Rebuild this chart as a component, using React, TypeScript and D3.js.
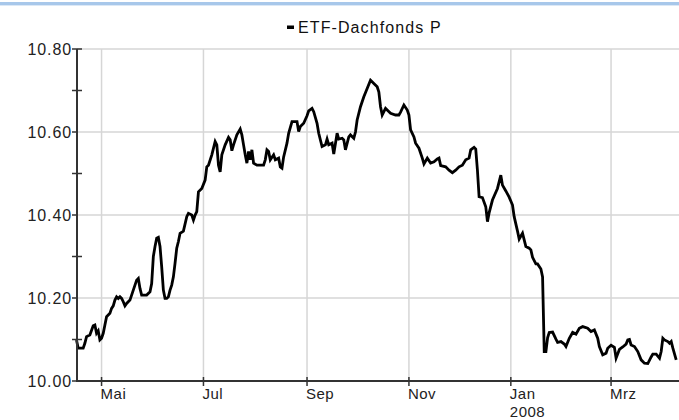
import React, { useEffect, useRef } from 'react';
import * as d3 from 'd3';

// ETF-Dachfonds P, daily NAV
const dates = [
  '2007-04-16', '2007-04-17', '2007-04-20', '2007-04-21', '2007-04-22', '2007-04-24', '2007-04-26', '2007-04-27',
  '2007-04-28', '2007-04-29', '2007-04-30', '2007-05-01', '2007-05-02', '2007-05-03', '2007-05-04', '2007-05-06',
  '2007-05-07', '2007-05-08', '2007-05-09', '2007-05-10', '2007-05-11', '2007-05-12', '2007-05-13', '2007-05-14',
  '2007-05-15', '2007-05-16', '2007-05-18', '2007-05-19', '2007-05-20', '2007-05-21', '2007-05-22', '2007-05-23',
  '2007-05-24', '2007-05-25', '2007-05-26', '2007-05-28', '2007-05-30', '2007-05-31', '2007-06-01', '2007-06-02',
  '2007-06-03', '2007-06-04', '2007-06-05', '2007-06-06', '2007-06-07', '2007-06-08', '2007-06-09', '2007-06-10',
  '2007-06-11', '2007-06-12', '2007-06-13', '2007-06-14', '2007-06-15', '2007-06-16', '2007-06-17', '2007-06-19',
  '2007-06-21', '2007-06-22', '2007-06-24', '2007-06-25', '2007-06-26', '2007-06-27', '2007-06-28', '2007-06-30',
  '2007-07-02', '2007-07-03', '2007-07-04', '2007-07-06', '2007-07-08', '2007-07-09', '2007-07-10', '2007-07-11',
  '2007-07-12', '2007-07-14', '2007-07-16', '2007-07-17', '2007-07-18', '2007-07-19', '2007-07-21', '2007-07-23',
  '2007-07-24', '2007-07-25', '2007-07-26', '2007-07-27', '2007-07-28', '2007-07-29', '2007-07-30', '2007-07-31',
  '2007-08-02', '2007-08-04', '2007-08-06', '2007-08-07', '2007-08-08', '2007-08-09', '2007-08-10', '2007-08-12',
  '2007-08-13', '2007-08-15', '2007-08-16', '2007-08-17', '2007-08-18', '2007-08-20', '2007-08-21', '2007-08-23',
  '2007-08-26', '2007-08-27', '2007-08-28', '2007-08-30', '2007-09-01', '2007-09-02', '2007-09-04', '2007-09-05',
  '2007-09-07', '2007-09-08', '2007-09-10', '2007-09-12', '2007-09-13', '2007-09-14', '2007-09-16', '2007-09-17',
  '2007-09-19', '2007-09-20', '2007-09-22', '2007-09-23', '2007-09-24', '2007-09-26', '2007-09-27', '2007-09-29',
  '2007-09-30', '2007-10-01', '2007-10-03', '2007-10-05', '2007-10-07', '2007-10-09', '2007-10-11', '2007-10-13',
  '2007-10-14', '2007-10-15', '2007-10-16', '2007-10-18', '2007-10-19', '2007-10-21', '2007-10-24', '2007-10-26',
  '2007-10-27', '2007-10-29', '2007-10-31', '2007-11-01', '2007-11-02', '2007-11-04', '2007-11-05', '2007-11-07',
  '2007-11-09', '2007-11-10', '2007-11-12', '2007-11-14', '2007-11-16', '2007-11-18', '2007-11-19', '2007-11-20',
  '2007-11-23', '2007-11-25', '2007-11-27', '2007-11-29', '2007-12-01', '2007-12-03', '2007-12-05', '2007-12-07',
  '2007-12-08', '2007-12-10', '2007-12-11', '2007-12-12', '2007-12-13', '2007-12-15', '2007-12-17', '2007-12-18',
  '2007-12-19', '2007-12-21', '2007-12-24', '2007-12-26', '2007-12-27', '2007-12-29', '2007-12-31', '2008-01-02',
  '2008-01-03', '2008-01-05', '2008-01-06', '2008-01-08', '2008-01-09', '2008-01-10', '2008-01-12', '2008-01-13',
  '2008-01-14', '2008-01-16', '2008-01-17', '2008-01-19', '2008-01-20', '2008-01-21', '2008-01-22', '2008-01-23',
  '2008-01-24', '2008-01-26', '2008-01-28', '2008-01-29', '2008-01-31', '2008-02-02', '2008-02-03', '2008-02-05',
  '2008-02-07', '2008-02-09', '2008-02-11', '2008-02-13', '2008-02-16', '2008-02-18', '2008-02-20', '2008-02-22',
  '2008-02-23', '2008-02-25', '2008-02-27', '2008-02-28', '2008-03-01', '2008-03-03', '2008-03-04', '2008-03-06',
  '2008-03-08', '2008-03-10', '2008-03-11', '2008-03-12', '2008-03-13', '2008-03-15', '2008-03-17', '2008-03-19',
  '2008-03-21', '2008-03-23', '2008-03-25', '2008-03-26', '2008-03-28', '2008-03-30', '2008-03-31', '2008-04-01',
  '2008-04-02', '2008-04-04', '2008-04-05', '2008-04-06', '2008-04-07', '2008-04-09',
];

const navValues = [
  10.099, 10.079, 10.079, 10.091, 10.107, 10.111, 10.133, 10.135,
  10.115, 10.121, 10.099, 10.103, 10.115, 10.135, 10.155, 10.163,
  10.175, 10.181, 10.195, 10.203, 10.199, 10.203, 10.199, 10.191,
  10.181, 10.187, 10.195, 10.207, 10.219, 10.231, 10.243, 10.247,
  10.223, 10.207, 10.207, 10.207, 10.215, 10.235, 10.300, 10.324,
  10.344, 10.346, 10.324, 10.275, 10.219, 10.199, 10.199, 10.203,
  10.219, 10.231, 10.251, 10.284, 10.320, 10.336, 10.356, 10.361,
  10.396, 10.404, 10.400, 10.388, 10.400, 10.408, 10.456, 10.464,
  10.484, 10.516, 10.520, 10.545, 10.577, 10.569, 10.520, 10.504,
  10.545, 10.569, 10.587, 10.581, 10.555, 10.569, 10.593, 10.607,
  10.593, 10.569, 10.545, 10.525, 10.553, 10.533, 10.557, 10.525,
  10.520, 10.520, 10.520, 10.533, 10.557, 10.553, 10.533, 10.545,
  10.533, 10.537, 10.516, 10.513, 10.540, 10.573, 10.597, 10.625,
  10.625, 10.601, 10.613, 10.621, 10.639, 10.651, 10.657, 10.649,
  10.621, 10.597, 10.565, 10.569, 10.583, 10.569, 10.573, 10.547,
  10.597, 10.583, 10.585, 10.581, 10.557, 10.588, 10.593, 10.585,
  10.600, 10.629, 10.661, 10.685, 10.705, 10.725, 10.717, 10.709,
  10.696, 10.661, 10.641, 10.657, 10.653, 10.645, 10.641, 10.641,
  10.648, 10.665, 10.653, 10.641, 10.605, 10.588, 10.573, 10.561,
  10.537, 10.523, 10.537, 10.525, 10.528, 10.535, 10.537, 10.519,
  10.516, 10.508, 10.502, 10.508, 10.516, 10.520, 10.533, 10.537,
  10.557, 10.563, 10.559, 10.508, 10.444, 10.442, 10.420, 10.384,
  10.405, 10.436, 10.464, 10.496, 10.472, 10.458, 10.443, 10.424,
  10.396, 10.361, 10.342, 10.356, 10.340, 10.324, 10.320, 10.316,
  10.298, 10.282, 10.282, 10.270, 10.251, 10.071, 10.071, 10.104,
  10.117, 10.118, 10.101, 10.093, 10.095, 10.089, 10.083, 10.103,
  10.117, 10.113, 10.127, 10.131, 10.127, 10.119, 10.123, 10.103,
  10.083, 10.063, 10.067, 10.079, 10.086, 10.081, 10.055, 10.076,
  10.082, 10.089, 10.099, 10.100, 10.087, 10.083, 10.071, 10.051,
  10.043, 10.042, 10.058, 10.065, 10.065, 10.055, 10.071, 10.103,
  10.099, 10.095, 10.091, 10.095, 10.079, 10.051,
];

const seriesName = 'ETF-Dachfonds P';
const yTicks = [10.0, 10.2, 10.4, 10.6, 10.8];
const yMinorTicks = [10.1, 10.3, 10.5, 10.7];
const monthNames = ['Jan', 'Feb', 'Mrz', 'Apr', 'Mai', 'Jun', 'Jul', 'Aug', 'Sep', 'Okt', 'Nov', 'Dez'];
const xDomain = ['2007-04-16', '2008-04-16'];

const WIDTH = 679;
const HEIGHT = 420;
const FONT = '"Liberation Sans", Arial, sans-serif';

const NavChart: React.FC = () => {
  const svgRef = useRef<SVGSVGElement>(null);

  useEffect(() => {
    if (!svgRef.current) return;
    const svg = d3.select(svgRef.current);
    svg.selectAll('*').remove();

    const parse = d3.utcParse('%Y-%m-%d');
    const data = dates.map((d, i) => ({ date: parse(d) as Date, value: navValues[i] }));

    const left = 77;
    const top = 49;
    const bottom = 381;

    const x = d3.scaleUtc()
      .domain(xDomain.map(d => parse(d) as Date))
      .range([left - 0.5, left - 0.5 + 366 * 1.6705]);
    const y = d3.scaleLinear().domain([10, 10.8]).range([bottom, top]);

    // top border strip
    svg.append('rect').attr('x', 0).attr('y', 2).attr('width', WIDTH).attr('height', 3).attr('fill', '#a7c7ea');
    svg.append('rect').attr('x', 0).attr('y', 5).attr('width', WIDTH).attr('height', 1).attr('fill', '#dbe8f6');

    // legend
    const legend = svg.append('g').attr('transform', 'translate(287,27)');
    legend.append('rect').attr('x', 0).attr('y', -1.5).attr('width', 7).attr('height', 3.5).attr('fill', '#000');
    legend.append('text')
      .attr('x', 11)
      .attr('y', 5.5)
      .text(seriesName)
      .style('font-family', FONT)
      .style('font-size', '16px')
      .style('letter-spacing', '1.1px')
      .style('fill', '#111');

    // grid
    const monthTicks = x.ticks(d3.utcMonth.every(2) as d3.TimeInterval)
      .filter(d => x(d) > left + 2);

    svg.append('g')
      .selectAll('line')
      .data(yTicks.slice(1))
      .enter()
      .append('line')
      .attr('x1', left)
      .attr('x2', WIDTH)
      .attr('y1', d => y(d))
      .attr('y2', d => y(d))
      .style('stroke', '#d6d6d6')
      .style('stroke-width', 1.5);

    svg.append('g')
      .selectAll('line')
      .data(monthTicks)
      .enter()
      .append('line')
      .attr('x1', d => x(d))
      .attr('x2', d => x(d))
      .attr('y1', top)
      .attr('y2', bottom)
      .style('stroke', '#d6d6d6')
      .style('stroke-width', 1.5);

    // series line
    const line = d3.line<{ date: Date; value: number }>()
      .x(d => x(d.date))
      .y(d => y(d.value));

    svg.append('path')
      .datum(data)
      .attr('d', line)
      .style('fill', 'none')
      .style('stroke', '#000')
      .style('stroke-width', 2.8)
      .style('stroke-linejoin', 'miter');

    // axes
    const axisColor = '#333';
    svg.append('line')
      .attr('x1', left).attr('x2', left)
      .attr('y1', top).attr('y2', bottom + 1)
      .style('stroke', axisColor).style('stroke-width', 2);
    svg.append('line')
      .attr('x1', left).attr('x2', WIDTH)
      .attr('y1', bottom).attr('y2', bottom)
      .style('stroke', axisColor).style('stroke-width', 2);

    // y ticks + labels
    yTicks.forEach(t => {
      svg.append('line')
        .attr('x1', left - 5).attr('x2', left + (t === 10.8 ? 5 : 0))
        .attr('y1', y(t)).attr('y2', y(t))
        .style('stroke', axisColor).style('stroke-width', 1.5);
      svg.append('text')
        .attr('x', left - 5)
        .attr('y', y(t) + 5.5)
        .attr('text-anchor', 'end')
        .text(t.toFixed(2))
        .style('font-family', FONT)
        .style('font-size', '16px')
        .style('letter-spacing', '0.9px')
        .style('fill', '#222');
    });
    yMinorTicks.forEach(t => {
      svg.append('line')
        .attr('x1', left - 5).attr('x2', left + 5)
        .attr('y1', y(t)).attr('y2', y(t))
        .style('stroke', axisColor).style('stroke-width', 1.5);
    });

    // x ticks + labels
    monthTicks.forEach(d => {
      const px = x(d);
      svg.append('line')
        .attr('x1', px).attr('x2', px)
        .attr('y1', bottom - 4).attr('y2', bottom + 5)
        .style('stroke', axisColor).style('stroke-width', 1.5);
      const label = svg.append('text')
        .attr('x', px - 1)
        .attr('y', bottom + 18)
        .style('font-family', FONT)
        .style('font-size', '15px')
        .style('letter-spacing', '0.5px')
        .style('fill', '#222');
      label.append('tspan').text(monthNames[d.getUTCMonth()]);
      if (d.getUTCMonth() === 0) {
        label.append('tspan').attr('x', px - 1).attr('dy', 18).text(String(d.getUTCFullYear()));
      }
    });
  }, []);

  return (
    <svg
      ref={svgRef}
      width={WIDTH}
      height={HEIGHT}
      style={{ position: 'absolute', left: 0, top: 0, background: '#fff', display: 'block' }}
    />
  );
};

export default function App() {
  return <NavChart />;
}
